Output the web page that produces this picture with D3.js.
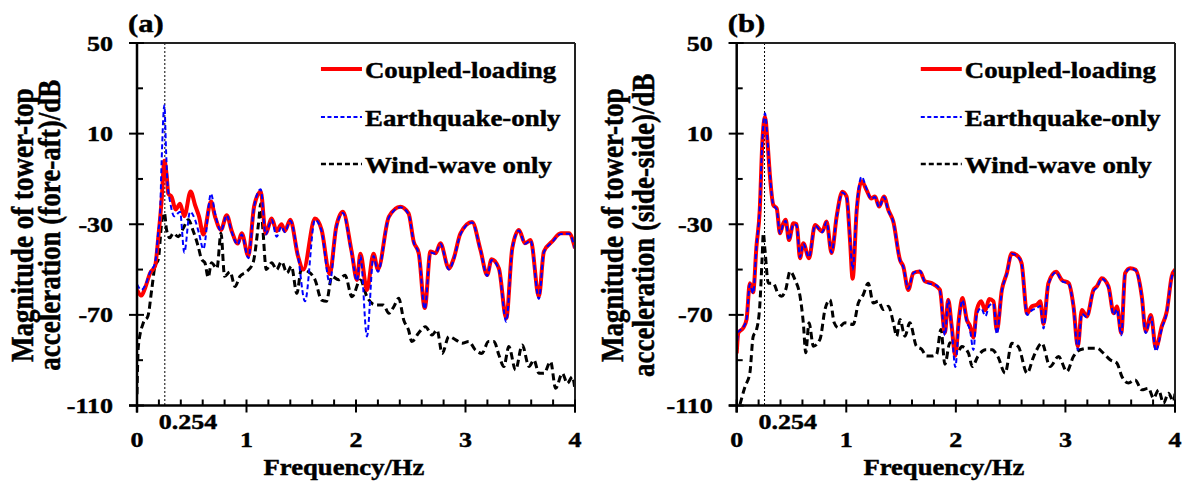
<!DOCTYPE html>
<html>
<head>
<meta charset="utf-8">
<script src="https://cdn.jsdelivr.net/npm/d3@7/dist/d3.min.js"></script>
<style>
  body { margin: 0; background: #fff; }
  svg text { font-family: "Liberation Serif", "Times New Roman", serif; font-weight: bold; fill: #000; stroke: #000; stroke-width: 0.45px; }
</style>
</head>
<body>
<div id="chart"></div>
<script>
// ---- data: [frequency Hz, magnitude dB] ----
var freqTicks = [0, 1, 2, 3, 4];
var freqMinor = [0.2, 0.4, 0.6, 0.8, 1.2, 1.4, 1.6, 1.8, 2.2, 2.4, 2.6, 2.8, 3.2, 3.4, 3.6, 3.8];
var dbTicks = [50, 10, -30, -70, -110];
var dbMinor = [30, -10, -50, -90];
var markFreq = 0.254;
var seriesNames = ["Coupled-loading", "Earthquake-only", "Wind-wave only"];

var aCoupled = [[0,-59],[0.04,-61.5],[0.075,-58],[0.12,-51.5],[0.165,-48.5],[0.195,-35.5],[0.225,-19.5],[0.25,-2],[0.27,-8],[0.286,-16.5],[0.317,-18],[0.353,-23.5],[0.393,-21],[0.432,-26.5],[0.49,-15.5],[0.53,-21.5],[0.566,-26.5],[0.606,-34.5],[0.676,-20],[0.712,-26.5],[0.767,-32.5],[0.819,-26],[0.865,-33],[0.92,-38.5],[0.956,-34],[1.017,-44],[1.07,-22],[1.13,-15.5],[1.175,-34],[1.23,-27.5],[1.275,-33],[1.32,-30],[1.35,-33],[1.4,-28],[1.47,-44],[1.52,-50],[1.625,-27.5],[1.686,-32.5],[1.76,-52],[1.82,-31],[1.88,-24.5],[1.96,-42],[2.009,-54.6],[2.04,-43],[2.1,-59],[2.16,-43],[2.2,-50],[2.3,-26.7],[2.405,-22.3],[2.48,-25.2],[2.527,-37.7],[2.573,-42.8],[2.628,-67],[2.68,-42],[2.726,-42.8],[2.771,-38.4],[2.848,-49.5],[2.893,-45],[2.954,-34],[3.06,-29],[3.137,-41.4],[3.198,-52.4],[3.238,-45.5],[3.305,-49.5],[3.372,-71.5],[3.427,-40.6],[3.488,-32.5],[3.543,-38.4],[3.595,-37],[3.67,-62],[3.716,-42],[3.79,-37.7],[3.87,-34],[3.945,-34],[4.0,-40.6]];

var aEarthquake = [[0,-56.5],[0.04,-59],[0.075,-57],[0.12,-51],[0.165,-47],[0.195,-33],[0.21,-26],[0.225,-2],[0.25,22.5],[0.265,3],[0.28,-13],[0.3,-19.5],[0.34,-26.5],[0.393,-24.5],[0.432,-42.5],[0.484,-24.5],[0.53,-28],[0.566,-34],[0.606,-41],[0.676,-16.5],[0.712,-25],[0.767,-33],[0.819,-26],[0.865,-33.5],[0.92,-39],[0.956,-34.5],[1.017,-45],[1.07,-22],[1.13,-14.5],[1.175,-34.5],[1.23,-28],[1.275,-35.5],[1.32,-31],[1.35,-33.5],[1.4,-28.5],[1.47,-44],[1.534,-64],[1.625,-28],[1.686,-33],[1.76,-56],[1.82,-31.5],[1.88,-25],[1.96,-43],[2.009,-55],[2.04,-44],[2.1,-79.5],[2.16,-44],[2.2,-51],[2.3,-27],[2.405,-22.5],[2.48,-25.5],[2.527,-38],[2.573,-43],[2.628,-67.5],[2.68,-42.5],[2.726,-43],[2.771,-38.6],[2.848,-50],[2.893,-45.5],[2.954,-34.5],[3.06,-29.2],[3.137,-41.6],[3.198,-52.8],[3.238,-45.8],[3.305,-50],[3.372,-73],[3.427,-41],[3.488,-32.8],[3.543,-38.6],[3.595,-37.2],[3.67,-63],[3.716,-42.3],[3.79,-38],[3.87,-34.3],[3.945,-34.2],[4.0,-41]];

var aWindWave = [[0,-105],[0.012,-84],[0.058,-73.5],[0.1,-70.5],[0.134,-59],[0.164,-48.5],[0.195,-45.5],[0.225,-29.5],[0.25,-25],[0.27,-32.5],[0.3,-36],[0.33,-34],[0.377,-35.5],[0.42,-32],[0.47,-28],[0.51,-32.5],[0.56,-40],[0.59,-45.5],[0.62,-47],[0.65,-53.5],[0.68,-47],[0.73,-49.5],[0.767,-34],[0.8,-53],[0.85,-51],[0.895,-57.5],[0.94,-53],[1.0,-51],[1.06,-47],[1.11,-29.5],[1.13,-21],[1.15,-32.5],[1.18,-50],[1.23,-47],[1.275,-50],[1.32,-46.5],[1.37,-51.5],[1.41,-48.5],[1.46,-60.5],[1.5,-50],[1.565,-51],[1.626,-54.5],[1.686,-63.5],[1.73,-64],[1.78,-53],[1.84,-54.5],[1.9,-52.5],[1.963,-62],[2.04,-54.6],[2.1,-62],[2.177,-65.6],[2.25,-65.6],[2.3,-69.3],[2.345,-66.4],[2.39,-62.7],[2.436,-72.3],[2.48,-76.7],[2.51,-81.8],[2.57,-78.1],[2.634,-75.2],[2.695,-78.9],[2.74,-76.7],[2.787,-87],[2.848,-79.6],[2.91,-81],[2.97,-82.5],[3.03,-81.8],[3.09,-85.5],[3.15,-87],[3.21,-81.8],[3.26,-81.8],[3.305,-87.7],[3.35,-92.8],[3.396,-84],[3.457,-94.3],[3.518,-83.3],[3.58,-92.8],[3.625,-89.9],[3.67,-95.8],[3.716,-95.8],[3.777,-90.6],[3.823,-102.4],[3.884,-95.8],[3.93,-100.2],[3.976,-97.3],[4.0,-103]];

var bCoupled = [[0,-87],[0.015,-78],[0.06,-75.7],[0.09,-72],[0.12,-56],[0.15,-60],[0.18,-40],[0.21,-24],[0.234,6],[0.258,17.5],[0.283,5],[0.304,-9],[0.334,-21.5],[0.365,-23],[0.395,-34],[0.425,-29.6],[0.447,-28],[0.477,-37],[0.517,-29.6],[0.547,-30],[0.578,-45],[0.608,-38.4],[0.66,-45],[0.715,-30.3],[0.781,-33.2],[0.82,-28.8],[0.866,-42.7],[0.912,-26.6],[0.964,-15.6],[1.003,-17.8],[1.034,-37],[1.058,-54],[1.095,-24],[1.14,-11],[1.186,-15],[1.226,-18.6],[1.262,-17.8],[1.3,-22.2],[1.344,-17.8],[1.384,-23.7],[1.429,-28.8],[1.49,-45.7],[1.52,-48.6],[1.566,-59],[1.612,-51.5],[1.672,-50.8],[1.718,-55.2],[1.779,-56],[1.824,-57.4],[1.855,-59],[1.9,-78],[1.93,-63.3],[1.962,-75],[1.995,-88],[2.03,-70.7],[2.06,-62.6],[2.1,-72.2],[2.13,-75],[2.16,-80],[2.19,-68],[2.23,-64],[2.27,-68],[2.304,-63],[2.344,-64],[2.374,-77],[2.42,-59],[2.465,-51.6],[2.51,-42.8],[2.57,-44.3],[2.6,-47.2],[2.65,-69.3],[2.693,-66.3],[2.74,-65.5],[2.77,-64],[2.8,-74],[2.845,-56],[2.915,-51],[2.967,-54.6],[3.03,-56],[3.074,-66.3],[3.113,-84],[3.15,-67.8],[3.195,-70.7],[3.256,-59],[3.286,-57.5],[3.332,-53.8],[3.393,-57.5],[3.44,-69.3],[3.47,-66.3],[3.51,-78],[3.545,-51.6],[3.59,-49.4],[3.64,-50.1],[3.697,-61.9],[3.733,-77.3],[3.78,-70],[3.825,-84.7],[3.88,-75],[3.925,-68.5],[3.97,-53],[4.0,-50]];

var bEarthquake = [[0,-85],[0.015,-77.5],[0.06,-75.5],[0.09,-72],[0.12,-56.5],[0.15,-60.5],[0.18,-40],[0.21,-23],[0.234,7],[0.258,19],[0.283,6],[0.304,-8.5],[0.334,-21.5],[0.365,-23.5],[0.395,-34],[0.425,-30],[0.447,-28.5],[0.477,-37],[0.517,-30],[0.547,-30.5],[0.578,-44.5],[0.608,-38.6],[0.66,-44.5],[0.715,-30.5],[0.781,-33.5],[0.82,-29],[0.866,-42.5],[0.912,-27],[0.964,-16],[1.003,-18],[1.034,-36],[1.058,-50],[1.095,-22.5],[1.14,-9],[1.186,-14.5],[1.226,-18.8],[1.262,-18],[1.3,-22.5],[1.344,-18],[1.384,-24],[1.429,-29],[1.49,-46],[1.52,-48.8],[1.566,-58.5],[1.612,-51.5],[1.672,-50.5],[1.718,-55.5],[1.779,-56.5],[1.824,-57],[1.855,-59.5],[1.9,-79],[1.93,-63.5],[1.962,-76],[1.995,-93],[2.03,-72],[2.06,-63.5],[2.1,-73],[2.13,-77],[2.16,-85.5],[2.19,-70],[2.23,-67],[2.27,-70.5],[2.304,-66],[2.344,-65],[2.374,-78.5],[2.42,-59.5],[2.465,-52],[2.51,-43],[2.57,-44.5],[2.6,-47.5],[2.65,-70],[2.693,-68],[2.74,-67],[2.77,-66],[2.8,-76],[2.845,-56.5],[2.915,-51.2],[2.967,-55],[3.03,-56.3],[3.074,-67],[3.113,-85.5],[3.15,-69.5],[3.195,-71],[3.256,-59.5],[3.286,-58],[3.332,-54],[3.393,-58],[3.44,-70],[3.47,-67.5],[3.51,-79],[3.545,-52],[3.59,-49.6],[3.64,-50.3],[3.697,-62.5],[3.733,-78],[3.78,-71],[3.825,-86],[3.88,-76],[3.925,-69],[3.97,-53.5],[4.0,-50.3]];

var bWindWave = [[0.03,-109.5],[0.076,-101.7],[0.12,-95.7],[0.15,-79.6],[0.18,-76.7],[0.21,-66.4],[0.232,-45],[0.243,-34],[0.258,-41.3],[0.289,-56],[0.334,-56],[0.374,-60.3],[0.41,-61.8],[0.447,-58.9],[0.487,-50.8],[0.532,-54.5],[0.578,-61.8],[0.608,-73.5],[0.63,-86.7],[0.66,-73.5],[0.7,-83.8],[0.76,-80.8],[0.806,-67.6],[0.851,-63.3],[0.89,-73.5],[0.927,-75.7],[0.988,-73.5],[1.064,-74.2],[1.11,-64.8],[1.155,-61.1],[1.2,-56],[1.247,-64.8],[1.292,-64],[1.338,-67.6],[1.384,-66.2],[1.43,-73.5],[1.46,-79.4],[1.49,-72],[1.535,-79.4],[1.58,-73.5],[1.64,-83.8],[1.688,-85.2],[1.733,-88.2],[1.779,-88.2],[1.824,-87.4],[1.864,-76.4],[1.9,-91.8],[1.946,-82.3],[1.985,-85],[2.01,-86.9],[2.055,-84],[2.115,-86.9],[2.15,-92.8],[2.2,-88.4],[2.27,-85.4],[2.33,-85.4],[2.383,-88.4],[2.45,-95.7],[2.51,-82.5],[2.57,-84],[2.65,-95.7],[2.71,-88.4],[2.785,-82.5],[2.86,-92.8],[2.937,-88.4],[3.013,-95],[3.073,-88.4],[3.134,-85.4],[3.21,-84.7],[3.286,-84.7],[3.347,-86.9],[3.408,-89.8],[3.47,-91.3],[3.515,-97.2],[3.575,-100.1],[3.636,-98.7],[3.697,-103.1],[3.758,-102.4],[3.804,-106.8],[3.85,-103.1],[3.895,-109],[3.94,-104.6],[3.986,-108.2],[4.0,-104.6]];

var W = 1187, H = 484;
var plotTop = 43, plotBottom = 405.5;
var sx = 1.18; // the picture's text is stretched sideways

var svg = d3.select("#chart").append("svg")
    .attr("width", W)
    .attr("height", H);

var panels = [
  { id: "a", label: "(a)", left: 137, right: 575, title2: "acceleration (fore-aft)/dB",
    t1x: 33, t2x: 60, series: [aWindWave, aCoupled, aEarthquake] },
  { id: "b", label: "(b)", left: 736.7, right: 1175, title2: "acceleration (side-side)/dB",
    t1x: 623, t2x: 654, series: [bWindWave, bCoupled, bEarthquake] }
];

// styles for wind-wave, coupled, earthquake (draw order)
var lineStyles = [
  { color: "#000", width: 3, dash: "7,4" },
  { color: "#ff0000", width: 4, dash: null },
  { color: "#0000ff", width: 2, dash: "5,3" }
];

function stretchedText(g, x, y, txt, size, anchor) {
  return g.append("text")
    .attr("transform", "translate(" + x + "," + y + ") scale(" + sx + ",1)")
    .attr("text-anchor", anchor)
    .style("font-size", size + "px")
    .text(txt);
}

panels.forEach(function(p) {
  var x = d3.scaleLinear().domain([0, 4]).range([p.left, p.right]);
  var y = d3.scaleLinear().domain([-110, 50]).range([plotBottom, plotTop]);
  var g = svg.append("g");

  g.append("clipPath").attr("id", "clip-" + p.id)
    .append("rect")
    .attr("x", p.left).attr("y", plotTop)
    .attr("width", p.right - p.left).attr("height", plotBottom - plotTop);

  // marker line at first natural frequency
  g.append("line")
    .attr("x1", x(markFreq)).attr("x2", x(markFreq))
    .attr("y1", plotTop).attr("y2", plotBottom)
    .attr("stroke", "#000").attr("stroke-width", 1)
    .attr("stroke-dasharray", "2,2");

  var line = d3.line()
    .x(function(d) { return x(d[0]); })
    .y(function(d) { return y(d[1]); })
    .curve(d3.curveMonotoneX);

  var curves = g.append("g").attr("clip-path", "url(#clip-" + p.id + ")");
  p.series.forEach(function(s, i) {
    var st = lineStyles[i];
    curves.append("path")
      .datum(s)
      .attr("d", line)
      .attr("fill", "none")
      .attr("stroke", st.color)
      .attr("stroke-width", st.width)
      .attr("stroke-linejoin", "round")
      .attr("stroke-dasharray", st.dash);
  });

  // frame
  g.append("line").attr("x1", p.left - 8).attr("x2", p.right)
    .attr("y1", plotTop).attr("y2", plotTop)
    .attr("stroke", "#222").attr("stroke-width", 2);
  g.append("line").attr("x1", p.right).attr("x2", p.right)
    .attr("y1", plotTop).attr("y2", plotBottom + 7)
    .attr("stroke", "#222").attr("stroke-width", 2);
  g.append("line").attr("x1", p.left).attr("x2", p.left)
    .attr("y1", plotTop).attr("y2", plotBottom + 7)
    .attr("stroke", "#000").attr("stroke-width", 2.5);
  g.append("line").attr("x1", p.left - 8).attr("x2", p.right)
    .attr("y1", plotBottom).attr("y2", plotBottom)
    .attr("stroke", "#000").attr("stroke-width", 2.5);

  // y ticks
  dbTicks.forEach(function(v) {
    g.append("line").attr("x1", p.left - 8).attr("x2", p.left + 7)
      .attr("y1", y(v)).attr("y2", y(v))
      .attr("stroke", "#000").attr("stroke-width", 2);
    stretchedText(g, p.left - 24, y(v) + 7.5, v, 22, "end");
  });
  dbMinor.forEach(function(v) {
    g.append("line").attr("x1", p.left).attr("x2", p.left + 6)
      .attr("y1", y(v)).attr("y2", y(v))
      .attr("stroke", "#000").attr("stroke-width", 2);
  });

  // x ticks
  freqTicks.forEach(function(v) {
    g.append("line").attr("x1", x(v)).attr("x2", x(v))
      .attr("y1", plotBottom - 6).attr("y2", plotBottom + 7)
      .attr("stroke", "#000").attr("stroke-width", 2);
    stretchedText(g, x(v), 447, v, 22, "middle");
  });
  freqMinor.forEach(function(v) {
    g.append("line").attr("x1", x(v)).attr("x2", x(v))
      .attr("y1", plotBottom - 6).attr("y2", plotBottom)
      .attr("stroke", "#000").attr("stroke-width", 2);
  });
  stretchedText(g, x(markFreq) - 6, 429, markFreq.toFixed(3), 22, "start");

  // axis titles
  stretchedText(g, (p.left + p.right) / 2 - 12, 475, "Frequency/Hz", 22.6, "middle");
  var cy = (plotTop + plotBottom) / 2 + 1;
  [["Magnitude of tower-top", p.t1x], [p.title2, p.t2x]].forEach(function(t) {
    g.append("text")
      .attr("transform", "translate(" + t[1] + "," + cy + ") scale(" + sx + ",1) rotate(-90)")
      .attr("text-anchor", "middle")
      .style("font-size", "27px")
      .text(t[0]);
  });

  // panel label
  stretchedText(g, p.left - 9, 32, p.label, 26, "start");

  // legend
  var legX = x(1.68);
  var legRows = [
    { name: seriesNames[0], st: lineStyles[1], y: 69 },
    { name: seriesNames[1], st: lineStyles[2], y: 117 },
    { name: seriesNames[2], st: lineStyles[0], y: 164 }
  ];
  legRows.forEach(function(r) {
    g.append("line")
      .attr("x1", legX).attr("x2", legX + 41)
      .attr("y1", r.y).attr("y2", r.y)
      .attr("stroke", r.st.color)
      .attr("stroke-width", r.st.width === 4 ? 4 : (r.st.width === 3 ? 2.5 : 2))
      .attr("stroke-dasharray", r.st.dash ? (r.st.width === 3 ? "5,3" : "4,2.5") : null);
    g.append("text")
      .attr("transform", "translate(" + (legX + 44) + "," + (r.y + 9) + ") scale(1.12,1)")
      .style("font-size", "24px")
      .text(r.name);
  });
});
</script>
</body>
</html>
